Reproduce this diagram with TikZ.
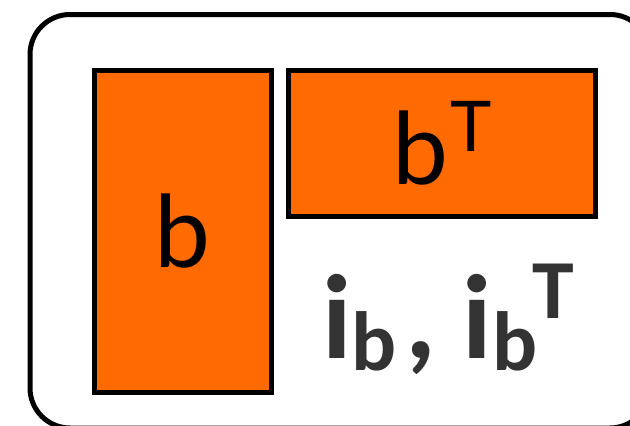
\documentclass[tikz,border=0pt]{standalone}
\usepackage{fontspec}
\newfontfamily\geofont{Lato}
\newfontfamily\calfont{Carlito}
\definecolor{boxorange}{HTML}{FF6B00}
\definecolor{textgray}{HTML}{333333}
\begin{document}
\begin{tikzpicture}[x=1pt,y=-1pt,
  frame/.style={draw=black, line width=5pt, rounded corners=40pt, inner sep=0pt},
  obox/.style={draw=black, fill=boxorange, line width=5pt, inner sep=0pt,
    font=\geofont\fontsize{100}{100}\selectfont},
  lbl/.style={inner sep=0pt, text=textgray, font=\calfont\bfseries\fontsize{120}{120}\selectfont}]
\useasboundingbox (0,0) rectangle (630,426);
\node[frame, minimum width=620pt, minimum height=413.5pt] (outer) at (340,221.25) {};
\node[obox, minimum width=177.5pt, minimum height=322pt] (b) at (182.75,231.5) {b};
\node[obox, minimum width=306.5pt, minimum height=146pt] (bt) at (441.75,143.5)
  {b\hspace{2pt}\raisebox{33pt}{\fontsize{70}{70}\selectfont T}};
\node[lbl, anchor=base west] (ib) at (322,358)
  {i\raisebox{-12pt}{\fontsize{84}{84}\selectfont b}\hspace{9pt},\hspace{26pt}i\raisebox{-12pt}{\fontsize{84}{84}\selectfont b}\hspace{-5pt}\raisebox{40pt}{\fontsize{84}{84}\selectfont T}};
\end{tikzpicture}
\end{document}
